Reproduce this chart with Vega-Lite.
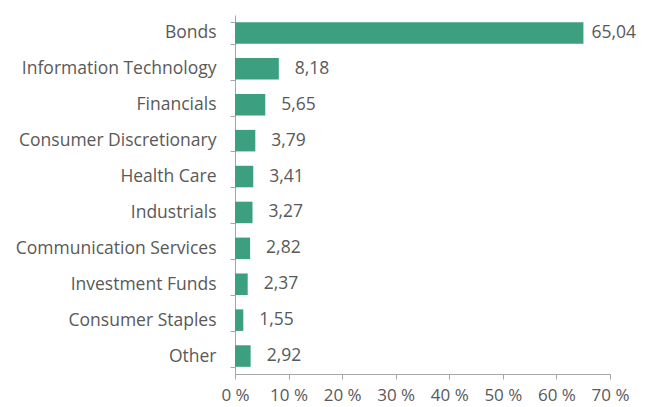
{
  "$schema": "https://vega.github.io/schema/vega-lite/v6.json",
  "autosize": "none",
  "width": 375,
  "height": 359,
  "padding": {"left": 235, "top": 15, "right": 43, "bottom": 33},
  "config": {
    "locale": {"number": {"decimal": ",", "thousands": ".", "grouping": [3], "currency": ["", " €"]}},
    "font": "Open Sans",
    "view": {"stroke": null}
  },
  "data": {"values": [
    {"sector": "Bonds", "pct": 65.04},
    {"sector": "Information Technology", "pct": 8.18},
    {"sector": "Financials", "pct": 5.65},
    {"sector": "Consumer Discretionary", "pct": 3.79},
    {"sector": "Health Care", "pct": 3.41},
    {"sector": "Industrials", "pct": 3.27},
    {"sector": "Communication Services", "pct": 2.82},
    {"sector": "Investment Funds", "pct": 2.37},
    {"sector": "Consumer Staples", "pct": 1.55},
    {"sector": "Other", "pct": 2.92}
  ]},
  "encoding": {
    "y": {"field": "sector", "type": "nominal", "sort": null, "scale": {"paddingInner": 0.4, "paddingOuter": 0.2},
      "axis": {"title": null, "tickBand": "extent", "domainColor": "#a6a6a6", "tickColor": "#a6a6a6", "tickSize": 5, "labelFontSize": 17.5, "labelColor": "#595959", "labelPadding": 14, "labelFont": "Open Sans", "labelLimit": 300}},
    "x": {"field": "pct", "type": "quantitative", "scale": {"domain": [0, 70]},
      "axis": {"title": null, "values": [0, 10, 20, 30, 40, 50, 60, 70], "labelExpr": "datum.value + ' %'", "labelFlush": false, "labelOverlap": false, "grid": false, "domainColor": "#a6a6a6", "tickColor": "#a6a6a6", "tickSize": 5, "labelFontSize": 17, "labelColor": "#595959", "labelPadding": 8, "labelFont": "Open Sans"}}
  },
  "layer": [
    {"mark": {"type": "bar", "color": "#3c9f80"}},
    {"transform": [{"filter": "datum.sector != 'Bonds'"}],
     "mark": {"type": "text", "align": "left", "baseline": "middle", "dx": 16, "fontSize": 17.5, "color": "#595959"},
     "encoding": {"text": {"field": "pct", "type": "quantitative", "format": ".2f"}}},
    {"transform": [{"filter": "datum.sector == 'Bonds'"}],
     "mark": {"type": "text", "align": "left", "baseline": "middle", "dx": 8, "fontSize": 17.5, "color": "#595959"},
     "encoding": {"text": {"field": "pct", "type": "quantitative", "format": ".2f"}}}
  ]
}
